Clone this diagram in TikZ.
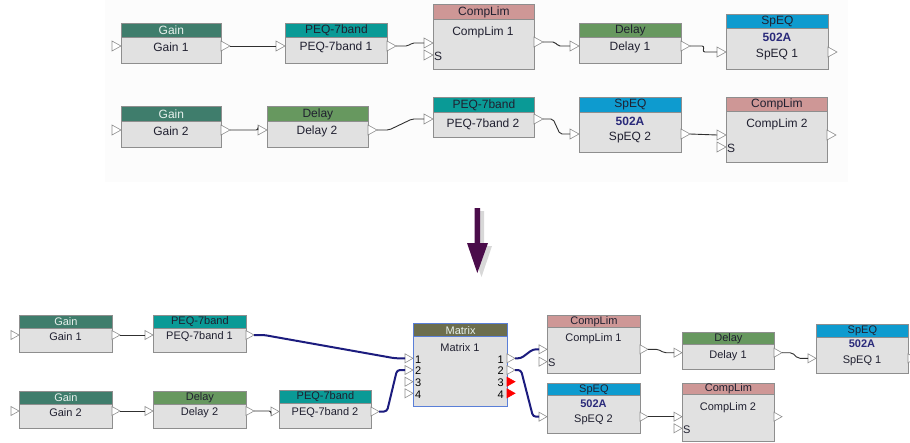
\documentclass[tikz,border=0pt]{standalone}
\usepackage{fontspec}
\setmainfont{Liberation Sans}
\usetikzlibrary{calc}
\definecolor{bodyc}{HTML}{E1E1E1}
\definecolor{bordc}{HTML}{8E8E8E}
\definecolor{gainc}{HTML}{3F7D6C}
\definecolor{peqc}{HTML}{0A9A96}
\definecolor{clc}{HTML}{CE9796}
\definecolor{delc}{HTML}{67985F}
\definecolor{speqc}{HTML}{0E9BCF}
\definecolor{matc}{HTML}{6C6E4E}
\definecolor{matb}{HTML}{5A7FD8}
\definecolor{lighttxt}{HTML}{E6F0EC}
\definecolor{txtc}{HTML}{202030}
\definecolor{navy}{HTML}{2A2A7A}
\definecolor{wirec}{HTML}{303030}
\definecolor{bluew}{HTML}{1C1C7E}
\definecolor{arrc}{HTML}{4A0C4A}
\definecolor{panel}{HTML}{FCFCFC}
\newcommand\fs{\fontsize{12}{13}\selectfont}
\newcommand\pw{9}
\newcommand\ph{5}
\tikzset{
  body/.style={draw=bordc, fill=bodyc, line width=0.8pt, inner sep=0pt},
  hdr/.style={draw=bordc, line width=0.8pt, inner sep=0pt, font=\fs},
  txt/.style={inner sep=0pt, font=\fs, text=txtc},
  num/.style={inner sep=0pt, font=\fs, text=navy, font=\fs\bfseries},
  port/.style={draw=bordc, fill=white, line width=0.6pt},
  redport/.style={draw=red, fill=red, line width=0.6pt},
  wire/.style={draw=wirec, line width=0.9pt, rounded corners=2pt,
    to path={-- ++(#1,0) -- ($(\tikztotarget)+(-#1,0)$) -- (\tikztotarget)}},
  wire/.default=12,
  bwire/.style={draw=bluew, line width=2pt, rounded corners=3pt,
    to path={-- ++(#1,0) -- ($(\tikztotarget)+(-#1,0)$) -- (\tikztotarget)}},
  bwire/.default=8
}
% name, x, y, w, h, header h, header colour, header text, header text colour
\newcommand\blk[9]{%
  \node[body, minimum width=#4pt, minimum height=#5pt, anchor=north west] (#1) at (#2,#3) {};
  \node[hdr, fill=#7, text=#9, minimum width=#4pt, minimum height=#6pt, anchor=north west] (#1h) at (#2,#3) {#8};
}
\newcommand\inp[4][port]{%
  \draw[#1] ({#3-\pw},{#4-\ph}) -- (#3,#4) -- ({#3-\pw},{#4+\ph}) -- cycle;
  \coordinate (#2) at ({#3-\pw},#4);}
\newcommand\outp[4][port]{%
  \draw[#1] (#3,{#4-\ph}) -- ({#3+\pw},#4) -- (#3,{#4+\ph}) -- cycle;
  \coordinate (#2) at ({#3+\pw},#4);}
\begin{document}
\begin{tikzpicture}[x=1pt,y=-1pt]
\useasboundingbox (0,0) rectangle (910,442);
\fill[white] (0,0) rectangle (910,442);
\fill[panel] (105,0) rectangle (848,182);

% ---------------- top: row 1
\blk{g1}{121}{23}{100}{40}{14}{gainc}{Gain}{lighttxt}
\node[txt] (g1t) at (171,47) {Gain 1};
\inp{g1i}{121}{46}\outp{g1o}{221}{46}

\blk{p1}{285}{23}{102}{40}{14}{peqc}{PEQ-7band}{txtc}
\node[txt] (p1t) at (336,47) {PEQ-7band 1};
\inp{p1i}{285}{46}\outp{p1o}{387}{46}

\blk{c1}{433}{4}{101}{65}{15}{clc}{CompLim}{txtc}
\node[txt] (c1t) at (483,32) {CompLim 1};
\inp{c1i}{433}{43}\inp{c1s}{433}{55}\outp{c1o}{534}{42}
\node[txt, anchor=west] (c1sl) at (434,56) {S};

\blk{d1}{579}{23}{102}{40}{14}{delc}{Delay}{txtc}
\node[txt] (d1t) at (630,47) {Delay 1};
\inp{d1i}{579}{46}\outp{d1o}{681}{46}

\blk{s1}{726}{14}{102}{55}{14}{speqc}{SpEQ}{txtc}
\node[num] (s1n) at (777,37) {502A};
\node[txt] (s1t) at (777,55) {SpEQ 1};
\inp{s1i}{726}{52}\outp{s1o}{828}{52}

\draw[wire] (g1o) -- (p1i);
\draw[wire] (p1o) to (c1i);
\draw[wire] (c1o) to (d1i);
\draw[wire=14] (d1o) to (s1i);

% ---------------- top: row 2
\blk{g2}{121}{106}{100}{41}{15}{gainc}{Gain}{lighttxt}
\node[txt] (g2t) at (171,131) {Gain 2};
\inp{g2i}{121}{130}\outp{g2o}{221}{130}

\blk{d2}{267}{106}{101}{41}{15}{delc}{Delay}{txtc}
\node[txt] (d2t) at (317,131) {Delay 2};
\inp{d2i}{267}{130}\outp{d2o}{368}{130}

\blk{p2}{433}{97}{101}{40}{15}{peqc}{PEQ-7band}{txtc}
\node[txt] (p2t) at (483,124) {PEQ-7band 2};
\inp{p2i}{433}{119}\outp{p2o}{534}{119}

\blk{s2}{579}{97}{102}{55}{15}{speqc}{SpEQ}{txtc}
\node[num] (s2n) at (630,121) {502A};
\node[txt] (s2t) at (630,138) {SpEQ 2};
\inp{s2i}{579}{134}\outp{s2o}{681}{134}

\blk{c2}{726}{97}{101}{65}{14}{clc}{CompLim}{txtc}
\node[txt] (c2t) at (777,124) {CompLim 2};
\inp{c2i}{726}{135}\inp{c2s}{726}{147}\outp{c2o}{827}{135}
\node[txt, anchor=west] (c2sl) at (727,148) {S};

\draw[wire] (g2o) -- (g2o -| d2i) -- (d2i);
\draw[wire] (d2o) to (p2i);
\draw[wire=10] (p2o) to (s2i);
\draw[wire] (s2o) -- (c2i);

% ---------------- arrow
\fill[gray, opacity=0.3] (478.5,211) -- (484,211) -- (484,246) -- (492,246) -- (481.5,277) -- (471,246) -- (478.5,246) -- cycle;
\fill[arrc] (474.5,208) -- (480,208) -- (480,243) -- (488,243) -- (477.3,273) -- (467,243) -- (474.5,243) -- cycle;

% ---------------- bottom
\renewcommand\fs{\fontsize{11}{12}\selectfont}
\renewcommand\pw{8}
\renewcommand\ph{4.5}

\blk{bg1}{19}{315}{93}{37}{13}{gainc}{Gain}{lighttxt}
\node[txt] (bg1t) at (65.5,337) {Gain 1};
\inp{bg1i}{19}{335}\outp{bg1o}{112}{335}

\blk{bp1}{153}{315}{93}{37}{13}{peqc}{PEQ-7band}{txtc}
\node[txt] (bp1t) at (199.5,337) {PEQ-7band 1};
\inp{bp1i}{153}{335}\outp{bp1o}{246}{335}

\blk{bg2}{19}{391}{93}{37}{13}{gainc}{Gain}{lighttxt}
\node[txt] (bg2t) at (65.5,413) {Gain 2};
\inp{bg2i}{19}{411}\outp{bg2o}{112}{411}

\blk{bd2}{153}{391}{93}{37}{13}{delc}{Delay}{txtc}
\node[txt] (bd2t) at (199.5,413) {Delay 2};
\inp{bd2i}{153}{411}\outp{bd2o}{246}{411}

\blk{bp2}{279}{390}{92}{38}{13}{peqc}{PEQ-7band}{txtc}
\node[txt] (bp2t) at (325,413) {PEQ-7band 2};
\inp{bp2i}{279}{411.5}\outp{bp2o}{371}{411.5}

% matrix
\node[body, draw=matb, line width=1.2pt, minimum width=94pt, minimum height=83pt, anchor=north west] (m) at (413,323) {};
\node[hdr, draw=matb, line width=1.2pt, fill=matc, text=lighttxt, minimum width=94pt, minimum height=13pt, anchor=north west] (mh) at (413,323) {Matrix};
\node[txt] (mt) at (460,347.5) {Matrix 1};
\inp{mi1}{413}{358.3}\inp{mi2}{413}{370}\inp{mi3}{413}{381.7}\inp{mi4}{413}{393.3}
\outp{mo1}{507}{358.3}\outp{mo2}{507}{370}
\outp[redport]{mo3}{507}{381.7}\outp[redport]{mo4}{507}{393.3}
\foreach \n/\y in {1/358.3,2/370,3/381.7,4/393.3}{
  \node[txt, text=black, anchor=west] (mil\n) at (415,\y+1) {\n};
  \node[txt, text=black, anchor=east] (mol\n) at (504,\y+1) {\n};
}

\blk{bc1}{547}{315}{93}{58}{12}{clc}{CompLim}{txtc}
\node[txt] (bc1t) at (593.5,339) {CompLim 1};
\inp{bc1i}{547}{349.3}\inp{bc1s}{547}{361.7}\outp{bc1o}{640}{349.3}
\node[txt, anchor=west] (bc1sl) at (548,362.7) {S};

\blk{bd1}{682}{332}{92}{37}{12}{delc}{Delay}{txtc}
\node[txt] (bd1t) at (728,356) {Delay 1};
\inp{bd1i}{682}{352.7}\outp{bd1o}{774}{352.7}

\blk{bs1}{816}{324}{92}{49}{13}{speqc}{SpEQ}{txtc}
\node[num] (bs1n) at (862,344) {502A};
\node[txt] (bs1t) at (862,361) {SpEQ 1};
\inp{bs1i}{816}{358.3}\outp{bs1o}{908}{358.3}

\blk{bs2}{547}{383}{93}{50}{12}{speqc}{SpEQ}{txtc}
\node[num] (bs2n) at (593.5,403.5) {502A};
\node[txt] (bs2t) at (593.5,420) {SpEQ 2};
\inp{bs2i}{547}{416.7}\outp{bs2o}{640}{416.7}

\blk{bc2}{682}{383}{92}{58}{11}{clc}{CompLim}{txtc}
\node[txt] (bc2t) at (728,407.5) {CompLim 2};
\inp{bc2i}{682}{416.7}\inp{bc2s}{682}{428.3}\outp{bc2o}{774}{416.7}
\node[txt, anchor=west] (bc2sl) at (683,429.3) {S};

\draw[wire] (bg1o) -- (bp1i);
\draw[wire] (bg2o) -- (bd2i);
\draw[wire] (bd2o) -- (bd2o -| bp2i) -- (bp2i);
\draw[wire=10] (bc1o) to (bd1i);
\draw[wire=10] (bd1o) to (bs1i);
\draw[wire] (bs2o) -- (bc2i);

\draw[bwire=10] (bp1o) to (mi1);
\draw[bwire=8] (bp2o) to (mi2);
\draw[bwire=6] (mo1) to (bc1i);
\draw[bwire=6] (mo2) to (bs2i);
\end{tikzpicture}
\end{document}
